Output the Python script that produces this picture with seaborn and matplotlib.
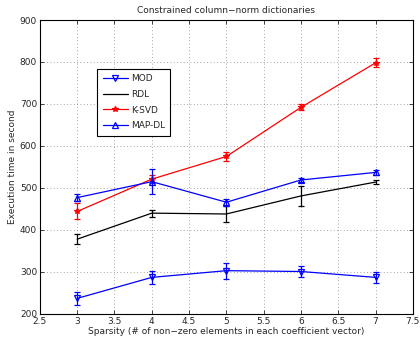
import numpy as np
import pandas as pd
import matplotlib
matplotlib.use("Agg")
import matplotlib.pyplot as plt
import seaborn as sns

sparsity = [3, 4, 5, 6, 7]
mod = [237, 287, 303, 301, 287]
mod_err = [15, 16, 19, 13, 14]
rdl = [378, 440, 438, 481, 514]
rdl_err = [12, 8, 20, 24, 5]
ksvd = [444, 521, 575, 692, 798]
ksvd_err = [19, 9, 10, 7, 11]
mapdl = [477, 515, 466, 519, 537]
mapdl_err = [9, 30, 8, 5, 6]

xticks = [2.5, 3, 3.5, 4, 4.5, 5, 5.5, 6, 6.5, 7, 7.5]
yticks = [200, 300, 400, 500, 600, 700, 800, 900]

sns.set_style("ticks")
plt.rcParams['font.family'] = ['DejaVu Sans']
plt.rcParams['font.size'] = 6.5

fig = plt.figure(figsize=(4.2, 3.39), dpi=100)
ax = fig.add_axes([0.095, 0.074, 0.888, 0.867])

series = [
    ("MOD", mod, mod_err, "#0000ff", "v", "none", 4),
    ("RDL", rdl, rdl_err, "#000000", None, "none", 0),
    ("K-SVD", ksvd, ksvd_err, "#ff0000", "*", "#ff0000", 4),
    ("MAP-DL", mapdl, mapdl_err, "#0000ff", "^", "none", 4),
]
rows = []
for name, vals, errs, c, m, fc, ms in series:
    for x, v in zip(sparsity, vals):
        rows.append({"x": x, "y": v, "s": name})
df = pd.DataFrame(rows)

for name, vals, errs, c, m, fc, ms in series:
    sub = df[df.s == name]
    sns.lineplot(data=sub, x="x", y="y", ax=ax, color=c, marker=m,
                 markerfacecolor=fc, markeredgecolor=c, markersize=ms,
                 markeredgewidth=0.9, linewidth=0.9, label=name)
    ax.errorbar(sparsity, vals, yerr=errs, fmt="none", ecolor=c,
                elinewidth=0.9, capsize=2.5, capthick=0.9)

ax.set_xlim(2.5, 7.5)
ax.set_ylim(200, 900)
ax.set_xticks(xticks)
ax.set_xticklabels([f"{t:g}" for t in xticks])
ax.set_yticks(yticks)
ax.grid(True, linestyle=(0, (1, 3)), color="#888888", linewidth=0.6)
ax.tick_params(direction="in", length=3, width=0.6, top=True, right=True,
               labelsize=6.5, pad=2)
for sp in ax.spines.values():
    sp.set_linewidth(0.8)
    sp.set_color("black")

ax.set_xlabel("Sparsity (# of non\u2212zero elements in each coefficient vector)",
              fontsize=6.5, labelpad=1)
ax.set_ylabel("Execution time in second", fontsize=6.5, labelpad=2)
ax.set_title("Constrained column\u2212norm dictionaries", fontsize=6.5, pad=5)

leg = ax.legend(loc="upper left", bbox_to_anchor=(0.142, 0.85), fontsize=6.5,
                fancybox=False, framealpha=1, edgecolor="black",
                handlelength=2.8, borderpad=0.6, labelspacing=0.75,
                handletextpad=0.3)
leg.get_frame().set_linewidth(0.8)

fig.savefig("out.png", dpi=100)
